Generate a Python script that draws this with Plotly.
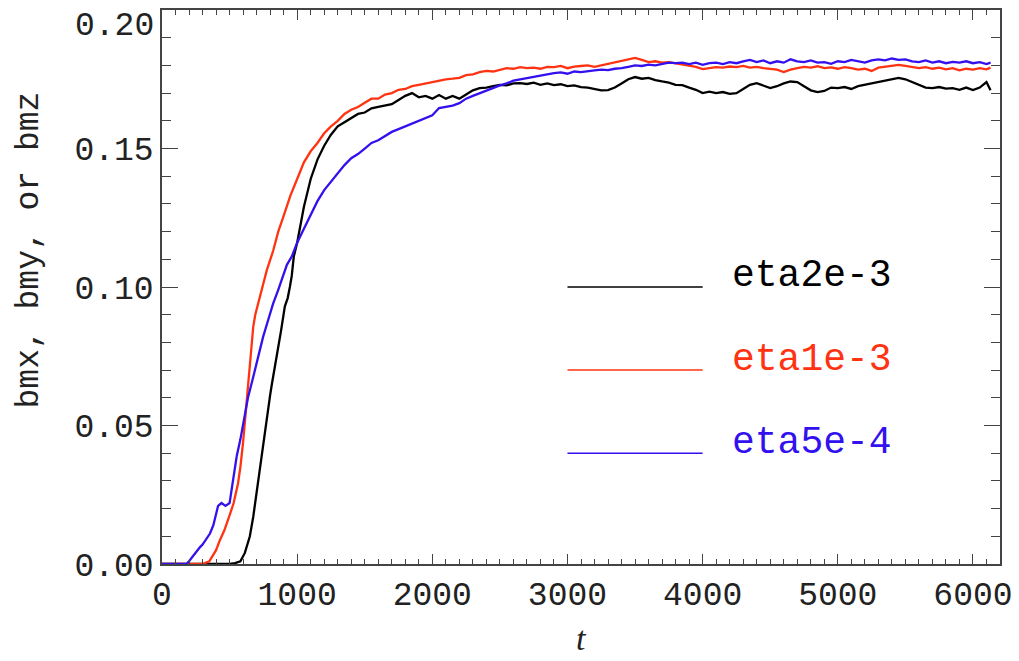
import plotly.graph_objects as go

# ---------------- data ----------------
t_early_black = [0, 500, 540, 580, 613, 650, 675, 700, 724, 750, 775, 800, 813, 850, 880, 909, 930, 946, 960, 975]
v_early_black = [0, 0, 0.0003, 0.001, 0.004, 0.010, 0.017, 0.026, 0.035, 0.044, 0.053, 0.061, 0.065, 0.075, 0.084,
                 0.093, 0.096, 0.100, 0.104, 0.111]

t_early_red = [0, 300, 350, 400, 429, 460, 503, 530, 562, 580, 600, 615, 628, 640, 650, 662, 675, 690, 710, 740,
               775, 822, 860, 895, 950]
v_early_red = [0, 0, 0.001, 0.005, 0.0087, 0.012, 0.018, 0.022, 0.029, 0.035, 0.044, 0.052, 0.060, 0.066, 0.071,
               0.078, 0.0856, 0.090, 0.094, 0.100, 0.106, 0.113, 0.120, 0.125, 0.133]

t_early_blue = [0, 180, 200, 245, 280, 300, 330, 355, 380, 400, 415, 440, 470, 500, 525, 553, 580, 610, 636, 675,
                710, 748, 785, 822, 860, 895, 924, 960]
v_early_blue = [0, 0, 0.001, 0.004, 0.006, 0.007, 0.009, 0.011, 0.014, 0.018, 0.021, 0.022, 0.021, 0.022, 0.030,
                0.039, 0.045, 0.053, 0.060, 0.0675, 0.075, 0.082, 0.088, 0.094, 0.099, 0.104, 0.108, 0.111]

# late stage samples: t = 1000, 1050, ..., 6100, then 6130
t_late = [1000, 1050, 1100, 1150, 1200, 1250, 1300, 1350, 1400, 1450, 1500, 1550, 1600, 1650, 1700, 1750, 1800,
          1850, 1900, 1950, 2000, 2050, 2100, 2150, 2200, 2250, 2300, 2350, 2400, 2450, 2500, 2550, 2600, 2650,
          2700, 2750, 2800, 2850, 2900, 2950, 3000, 3050, 3100, 3150, 3200, 3250, 3300, 3350, 3400, 3450, 3500,
          3550, 3600, 3650, 3700, 3750, 3800, 3850, 3900, 3950, 4000, 4050, 4100, 4150, 4200, 4250, 4300, 4350,
          4400, 4450, 4500, 4550, 4600, 4650, 4700, 4750, 4800, 4850, 4900, 4950, 5000, 5050, 5100, 5150, 5200,
          5250, 5300, 5350, 5400, 5450, 5500, 5550, 5600, 5650, 5700, 5750, 5800, 5850, 5900, 5950, 6000, 6050,
          6100, 6130]

v_late_black = [0.116, 0.129, 0.139, 0.146, 0.151, 0.155, 0.158, 0.1595, 0.161, 0.1625, 0.163, 0.1645, 0.165,
                0.1655, 0.166, 0.1675, 0.169, 0.170, 0.1685, 0.169, 0.168, 0.1693, 0.168, 0.169, 0.168, 0.1695,
                0.171, 0.1718, 0.172, 0.1725, 0.173, 0.1728, 0.1735, 0.1736, 0.1733, 0.1738, 0.173, 0.1735,
                0.1729, 0.1732, 0.1725, 0.1728, 0.1722, 0.172, 0.1715, 0.171, 0.1711, 0.172, 0.1735, 0.175,
                0.1758, 0.1752, 0.1755, 0.1747, 0.1742, 0.1738, 0.173, 0.1729, 0.172, 0.1712, 0.170, 0.1705,
                0.170, 0.1704, 0.1697, 0.170, 0.1715, 0.173, 0.1736, 0.1728, 0.1718, 0.1725, 0.1735, 0.1742,
                0.174, 0.1725, 0.171, 0.1704, 0.1708, 0.172, 0.1718, 0.1722, 0.1715, 0.1725, 0.173, 0.1736,
                0.174, 0.1745, 0.175, 0.1755, 0.175, 0.174, 0.1728, 0.172, 0.1718, 0.1722, 0.1716, 0.1718,
                0.1712, 0.172, 0.1711, 0.172, 0.174, 0.171]

v_late_red = [0.139, 0.145, 0.149, 0.152, 0.1555, 0.158, 0.160, 0.1625, 0.164, 0.165, 0.1665, 0.168, 0.168,
              0.1695, 0.170, 0.1712, 0.1715, 0.1725, 0.173, 0.1735, 0.174, 0.1745, 0.175, 0.1752, 0.1755, 0.1765,
              0.1768, 0.1776, 0.178, 0.1778, 0.1785, 0.179, 0.1788, 0.1794, 0.179, 0.1792, 0.1788, 0.1795,
              0.1794, 0.1798, 0.179, 0.1796, 0.1798, 0.180, 0.1795, 0.180, 0.1805, 0.181, 0.1815, 0.1822,
              0.1827, 0.182, 0.1812, 0.1815, 0.181, 0.1812, 0.1808, 0.1805, 0.180, 0.1795, 0.1787, 0.179,
              0.1794, 0.1792, 0.1796, 0.1794, 0.1798, 0.1792, 0.1795, 0.179, 0.1788, 0.1785, 0.1776, 0.1785,
              0.179, 0.1795, 0.1792, 0.1797, 0.179, 0.1793, 0.1788, 0.1794, 0.179, 0.1785, 0.1788, 0.178,
              0.1792, 0.1795, 0.1798, 0.1802, 0.1798, 0.1795, 0.179, 0.1794, 0.1788, 0.1792, 0.1786, 0.179,
              0.1782, 0.1788, 0.1785, 0.179, 0.1786, 0.1792]

v_late_blue = [0.116, 0.121, 0.126, 0.131, 0.135, 0.138, 0.141, 0.144, 0.1465, 0.148, 0.150, 0.152, 0.153,
               0.1545, 0.156, 0.157, 0.158, 0.159, 0.160, 0.161, 0.162, 0.1646, 0.165, 0.1655, 0.1664, 0.168,
               0.169, 0.170, 0.171, 0.172, 0.1728, 0.1735, 0.1745, 0.175, 0.1755, 0.176, 0.1765, 0.1768,
               0.1772, 0.1775, 0.177, 0.1778, 0.1776, 0.178, 0.1782, 0.1785, 0.1783, 0.1788, 0.179, 0.1795,
               0.180, 0.1798, 0.1803, 0.180, 0.1805, 0.181, 0.1808, 0.181, 0.1805, 0.181, 0.1802, 0.1808, 0.181,
               0.1805, 0.1812, 0.1808, 0.1815, 0.182, 0.1812, 0.1818, 0.1808, 0.1815, 0.181, 0.1822, 0.1815,
               0.1812, 0.1818, 0.181, 0.1812, 0.1806, 0.1815, 0.1812, 0.182, 0.1815, 0.181, 0.1818, 0.1822,
               0.1818, 0.1825, 0.182, 0.1822, 0.1815, 0.1812, 0.1818, 0.181, 0.1815, 0.1808, 0.1813, 0.181,
               0.1815, 0.1808, 0.1812, 0.1805, 0.181]

series_names = ["eta2e-3", "eta1e-3", "eta5e-4"]
series_colors = ["#000000", "#ff3311", "#3311ee"]

x_tick_step = 1000
y_tick_step = 0.05
y_top_label = "0.20"

# legend sample positions (data coordinates)
legend_x0, legend_x1, legend_text_x = 3000, 4000, 4200
legend_y = [0.10, 0.07, 0.04]

# ---------------- figure ----------------
series_t = [t_early_black + t_late, t_early_red + t_late, t_early_blue + t_late]
series_v = [v_early_black + v_late_black, v_early_red + v_late_red, v_early_blue + v_late_blue]

fig = go.Figure()
for name, col, tt, vv in zip(series_names, series_colors, series_t, series_v):
    fig.add_trace(go.Scatter(x=tt, y=vv, mode="lines", name=name,
                             line=dict(color=col, width=2.3), showlegend=False))

FONT = "Liberation Mono"
for name, col, ly in zip(series_names, series_colors, legend_y):
    fig.add_shape(type="line", xref="x", yref="y", x0=legend_x0, x1=legend_x1, y0=ly, y1=ly,
                  line=dict(color=col, width=1.5))
    fig.add_annotation(x=legend_text_x, y=ly + 0.004, xref="x", yref="y", text=name, showarrow=False,
                       xanchor="left", yanchor="middle", font=dict(family=FONT, size=38, color=col))

# top y label, nudged inside the page as in the original
fig.add_annotation(x=-0.007, y=1.0, xref="paper", yref="paper", text=y_top_label, showarrow=False,
                   xanchor="right", yanchor="top", yshift=4,
                   font=dict(family=FONT, size=33, color="#222222"))

fig.add_annotation(x=0.5, y=-0.171, xref="paper", yref="paper", text="<i>t</i>", showarrow=False,
                   xanchor="center", yanchor="bottom",
                   font=dict(family="Liberation Serif", size=34, color="#222222"))
fig.add_annotation(x=-0.158, y=0.567, xref="paper", yref="paper", text="bmx, bmy, or bmz", showarrow=False,
                   textangle=-90, xanchor="center", yanchor="middle",
                   font=dict(family=FONT, size=33, color="#222222"))

axis_common = dict(showline=True, linecolor="#444444", linewidth=1.5, mirror="allticks",
                   ticks="inside", tickcolor="#444444", tickwidth=1.2, showgrid=False, zeroline=False,
                   tickmode="linear", tick0=0, automargin=False,
                   tickfont=dict(family=FONT, size=33, color="#222222"))

fig.update_xaxes(range=[0, 6200], dtick=x_tick_step, ticklen=10, ticklabeloverflow="allow",
                 minor=dict(ticks="inside", dtick=100, ticklen=5, tickcolor="#444444", tickwidth=1),
                 **axis_common)
fig.update_yaxes(range=[0, 0.20001], dtick=y_tick_step, tickformat=".2f", ticklen=16,
                 labelalias={y_top_label: " "}, ticklabeloverflow="allow",
                 minor=dict(ticks="inside", dtick=0.01, ticklen=9, tickcolor="#444444", tickwidth=1),
                 **axis_common)

fig.update_layout(width=1019, height=661, margin=dict(l=162, r=19, t=10, b=97),
                  plot_bgcolor="white", paper_bgcolor="white")

fig.write_html("out.html")
